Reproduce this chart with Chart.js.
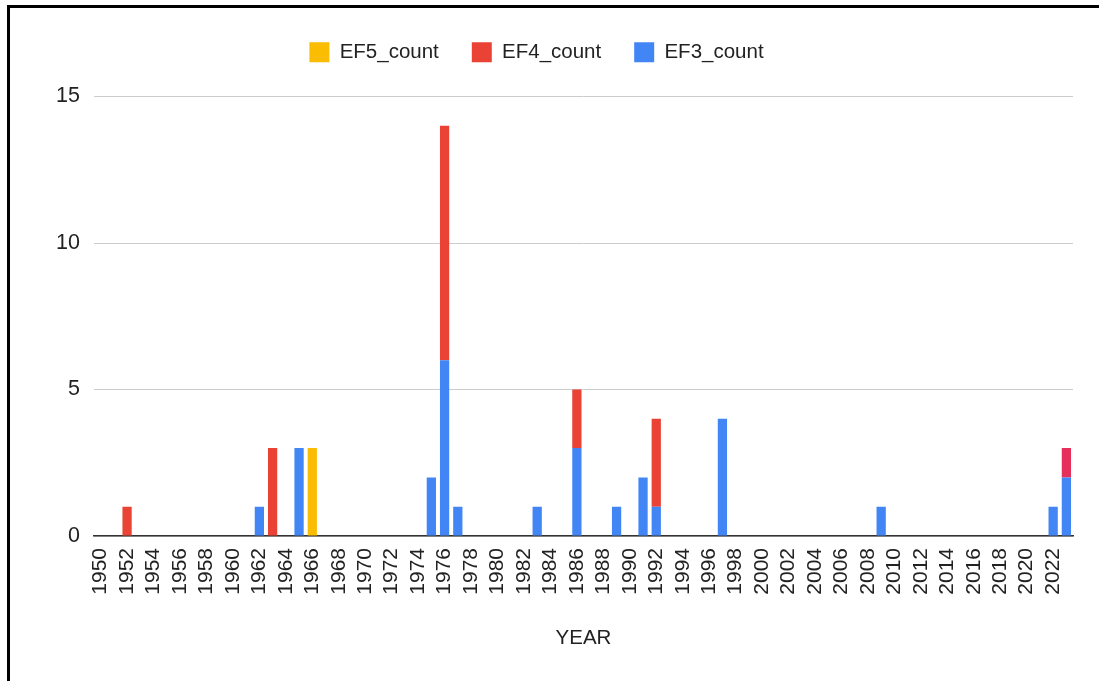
<!DOCTYPE html>
<html>
<head>
<meta charset="utf-8">
<script src="https://cdn.jsdelivr.net/npm/chart.js@4"></script>
<style>
  html, body { margin: 0; padding: 0; background: #fff; }
  #wrap { position: relative; width: 1099px; height: 681px; overflow: hidden; }
  #frame { position: absolute; left: 7px; top: 5px; width: 1200px; height: 800px;
           border-left: 3px solid #000; border-top: 3px solid #000; pointer-events: none; }
  canvas { position: absolute; left: 0; top: 0; }
</style>
</head>
<body>
<div id="wrap">
  <canvas id="c" width="1099" height="681"></canvas>
  <div id="frame"></div>
</div>
<script>
// ---- data ----
const years = [];
for (let y = 1950; y <= 2023; y++) years.push(String(y));

const ef3Years  = [1962, 1965, 1975, 1976, 1977, 1983, 1986, 1989, 1991, 1992, 1997, 2009, 2022, 2023];
const ef3Counts = [1,    3,    2,    6,    1,    1,    3,    1,    2,    1,    4,    1,    1,    2];

const ef4Years  = [1952, 1963, 1976, 1986, 1992, 2023];
const ef4Counts = [1,    3,    8,    2,    3,    1];

const ef5Years  = [1966];
const ef5Counts = [3];

const yTicks = [0, 5, 10, 15];

function toSeries(ys, cs) {
  return years.map(y => {
    const i = ys.indexOf(Number(y));
    return i >= 0 ? cs[i] : 0;
  });
}

const FONT = "'Liberation Sans', Arial, sans-serif";

// add extra space below the legend
const legendGap = {
  id: 'legendGap',
  afterInit(chart) {
    const lg = chart.legend;
    if (!lg) return;
    const orig = lg.fit.bind(lg);
    lg.fit = function () { orig(); this.height += 24; };
  }
};

new Chart(document.getElementById('c'), {
  type: 'bar',
  plugins: [legendGap],
  data: {
    labels: years,
    datasets: [
      { label: 'EF3_count', data: toSeries(ef3Years, ef3Counts), backgroundColor: '#4285f4' },
      { label: 'EF4_count', data: toSeries(ef4Years, ef4Counts),
        backgroundColor: ctx => (ctx.dataIndex !== undefined && years[ctx.dataIndex] === '2023') ? '#e5305c' : '#ea4335' },
      { label: 'EF5_count', data: toSeries(ef5Years, ef5Counts), backgroundColor: '#fbbc04' }
    ]
  },
  options: {
    responsive: false,
    animation: false,
    layout: { padding: { top: 9, right: 26, bottom: 26, left: 0 } },
    datasets: { bar: { categoryPercentage: 1.0, barPercentage: 0.7, borderWidth: 0 } },
    plugins: {
      legend: {
        position: 'top',
        reverse: true,
        labels: {
          font: { family: FONT, size: 20.5 },
          color: '#222',
          boxWidth: 20,
          boxHeight: 20,
          padding: 33
        }
      },
      tooltip: { enabled: false }
    },
    scales: {
      x: {
        stacked: true,
        grid: { display: false },
        border: { display: true, color: '#333', width: 1.5 },
        ticks: {
          autoSkip: false,
          minRotation: 90,
          maxRotation: 90,
          padding: 4,
          color: '#222',
          font: { family: FONT, size: 21 },
          callback: function (v, i) { return i % 2 === 0 ? this.getLabelForValue(v) : ''; }
        },
        title: { display: true, text: 'YEAR', color: '#222', font: { family: FONT, size: 20.5 }, padding: { top: 4, bottom: 4 } },
        afterFit: s => { s.height = 119; }
      },
      y: {
        stacked: true,
        min: 0,
        max: 15,
        afterBuildTicks: s => { s.ticks = yTicks.map(v => ({ value: v })); },
        grid: { color: '#cccccc', drawTicks: false, lineWidth: 1 },
        border: { display: false },
        ticks: { padding: 14, color: '#222', font: { family: FONT, size: 21.5 } },
        afterFit: s => { s.width = 94; }
      }
    }
  }
});
</script>
</body>
</html>
